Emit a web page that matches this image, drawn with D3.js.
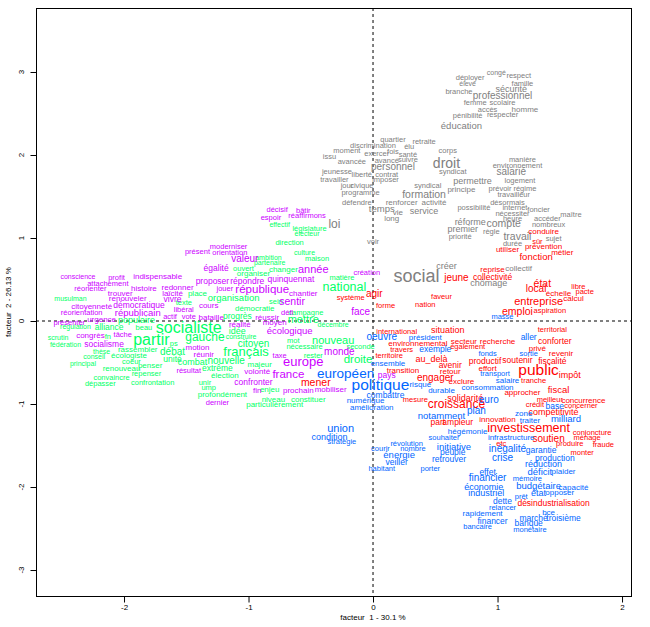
<!DOCTYPE html>
<html><head><meta charset="utf-8">
<script src="https://cdn.jsdelivr.net/npm/d3@7"></script>
<style>body{margin:0;background:#fff}svg{display:block}</style>
</head><body>
<script>
// [mot, facteur1, facteur2, poids]
const classeVerte = [
["musulman",-2.43,0.27,7],["populaire",-1.90,0.01,9],["régulation",-2.39,-0.07,7],["alliance",-2.12,-0.07,8.5],
["beau",-1.84,-0.08,7.5],["socialiste",-1.48,-0.08,16],["scrutin",-2.53,-0.20,7],["fn",-2.13,-0.18,7.5],
["partir",-1.78,-0.22,16],["fédération",-2.47,-0.28,7],["ps",-1.60,-0.27,7.5],["thèse",-2.18,-0.37,7],
["rassembler",-1.89,-0.34,8],["débat",-1.61,-0.37,10],["conseil",-2.24,-0.43,7],["écologiste",-1.96,-0.41,8],
["unité",-1.61,-0.46,8.5],["principal",-2.33,-0.51,7],["coeur",-1.94,-0.49,7.5],["penser",-1.79,-0.53,8],
["renouveau",-2.02,-0.57,8],["repenser",-1.82,-0.63,7.5],["convaincre",-2.10,-0.68,7.5],["dépasser",-2.19,-0.75,7.5],
["confrontation",-1.77,-0.74,7.5],["effectif",-0.75,1.16,7],["législature",-0.51,1.11,7.5],["électeur",-0.53,1.05,7],
["direction",-0.67,0.95,7.5],["culture",-0.55,0.83,7],["ambition",-0.84,0.77,7],["partenaire",-0.83,0.71,7],
["maison",-0.45,0.75,7.5],["ouvert",-1.04,0.63,7.5],["changer",-0.72,0.63,8],["organiser",-0.96,0.57,8],
["matière",-0.25,0.53,7.5],["national",-0.23,0.42,12.5],["place",-1.41,0.33,8],["texte",-1.52,0.23,7.5],
["organisation",-1.12,0.28,9.5],["sein",-0.78,0.24,7.5],["démocratie",-0.95,0.16,8],["campagne",-0.54,0.11,7.5],
["progrès",-1.09,0.06,8.5],["mettre",-0.56,0.02,11],["décembre",-0.32,-0.04,7],["gauche",-1.35,-0.19,12],
["idée",-1.09,-0.12,9],["construire",-1.06,-0.19,7],["mot",-0.64,-0.23,7.5],["nouveau",-0.32,-0.23,11],
["citoyen",-0.96,-0.27,10],["nécessaire",-0.55,-0.31,7.5],["français",-1.02,-0.37,13],["rester",-0.48,-0.41,7.5],
["seconde",-0.10,-0.31,7.5],["droite",-0.12,-0.46,11.5],["combat",-1.45,-0.49,9],["nouvelle",-1.18,-0.48,10],
["majeur",-0.91,-0.52,8],["extrême",-1.25,-0.57,8.5],["élection",-1.19,-0.65,8],["unir",-1.35,-0.74,7.5],
["ump",-1.32,-0.80,7.5],["enjeu",-0.83,-0.82,8],["profondément",-1.21,-0.88,8],["niveau",-0.80,-0.94,8],
["constituer",-0.52,-0.94,8],["particulièrement",-0.79,-1.00,8]
];
const classeMagenta = [
["conscience",-2.37,0.53,7],["profit",-2.06,0.52,7.5],["indispensable",-1.73,0.54,8],["attachement",-2.13,0.45,7.5],
["réorienter",-2.27,0.39,7.5],["histoire",-1.84,0.40,8],["redonner",-1.57,0.41,8],["trouver",-2.03,0.34,8],
["laïcité",-1.61,0.33,8],["renouveler",-1.97,0.27,8],["vivre",-1.61,0.27,8.5],["citoyenneté",-2.26,0.18,8],
["démocratique",-1.88,0.19,8.5],["libéral",-1.52,0.14,7.5],["réorientation",-2.34,0.10,7.5],["républicain",-1.89,0.10,9.5],
["actif",-1.63,0.05,7.5],["urgence",-2.18,0.02,8],["présenter",-2.44,-0.02,7.5],["vote",-1.48,0.05,7.5],
["bataille",-1.30,0.05,8],["congrès",-2.27,-0.17,8],["tâche",-2.01,-0.16,7.5],["socialisme",-2.16,-0.28,8.5],
["motion",-1.41,-0.31,8],["réunir",-1.36,-0.40,8],["résultat",-1.48,-0.60,7.5],["décisif",-0.77,1.35,7.5],
["bâtir",-0.56,1.33,7.5],["espoir",-0.82,1.25,7.5],["réaffirmons",-0.53,1.27,7.5],["moderniser",-1.16,0.90,7.5],
["présent",-1.41,0.84,7.5],["orientation",-1.15,0.83,7.5],["valeur",-1.03,0.75,10],["égalité",-1.26,0.64,8.5],
["année",-0.48,0.63,11],["proposer",-1.29,0.48,8.5],["répondre",-1.01,0.48,8.5],["quinquennat",-0.66,0.51,8.5],
["création",-0.05,0.58,7.5],["jouer",-1.19,0.39,7.5],["république",-0.89,0.39,11.5],["chantier",-0.56,0.33,8],
["sentir",-0.65,0.24,10.5],["cours",-1.32,0.19,8],["défi",-0.69,0.11,7.5],["face",-0.10,0.11,10],
["réussir",-0.85,0.05,8],["moyen",-0.79,-0.01,8],["réalité",-1.07,-0.04,8],["écologique",-0.67,-0.12,9.5],
["taxe",-0.75,-0.41,7.5],["monde",-0.27,-0.37,10],["europe",-0.56,-0.49,13],["volonté",-0.93,-0.61,8],
["france",-0.68,-0.64,11.5],["confronter",-0.96,-0.74,8.5],["fin",-0.93,-0.83,8],["prochain",-0.60,-0.83,8],
["mobiliser",-0.34,-0.82,8],["dernier",-1.25,-0.98,7.5],["pays",0.11,-0.65,8.5]
];
const classeGrise = [
["congé",0.99,2.99,7],["respect",1.17,2.96,7.5],["déployer",0.78,2.93,7.5],["élevé",0.76,2.86,7],
["famille",1.20,2.86,7.5],["sécurité",1.11,2.80,9],["branche",0.69,2.77,7.5],["professionnel",1.04,2.72,10],
["femme",0.82,2.63,7.5],["scolaire",1.04,2.63,7.5],["accès",0.92,2.55,7.5],["homme",1.22,2.55,8],
["pénibilité",0.76,2.48,7.5],["respecter",1.04,2.49,7.5],["éducation",0.71,2.35,9.5],["quartier",0.16,2.19,7.5],
["retraite",0.41,2.16,7.5],["discrimination",0.00,2.12,7.5],["élu",0.29,2.10,7.5],["corps",0.60,2.06,7.5],
["moment",-0.21,2.05,7.5],["exercer",0.03,2.02,7.5],["fois",0.16,2.04,7.5],["santé",0.28,2.01,7.5],
["issu",-0.35,1.98,7.5],["avancée",-0.17,1.92,7.5],["avancé",0.11,1.94,7.5],["suivre",0.28,1.95,7.5],
["personnel",0.16,1.86,10],["droit",0.59,1.90,14],["manière",1.20,1.95,7.5],["environnement",1.16,1.87,7.5],
["jeunesse",-0.29,1.80,7.5],["liberté",-0.09,1.77,7.5],["contrat",0.11,1.77,7.5],["syndicat",0.64,1.80,7.5],
["salarié",1.11,1.80,10],["travailler",-0.31,1.71,7.5],["imposer",0.10,1.71,7.5],["permettre",0.80,1.69,9],
["logement",1.18,1.69,7.5],["jour",-0.21,1.63,7.5],["civique",-0.09,1.63,7.5],["syndical",0.44,1.64,7.5],
["principe",0.71,1.59,8],["prévoir",1.02,1.60,7.5],["régime",1.22,1.60,7.5],["programme",-0.10,1.55,7.5],
["formation",0.41,1.53,10.5],["travailleur",1.13,1.53,7.5],["défendre",-0.13,1.43,7.5],["renforcer",0.23,1.43,8],
["activité",0.49,1.43,8],["désormais",1.08,1.43,7.5],["temps",0.07,1.35,9.5],["vie",0.20,1.31,8],
["service",0.41,1.33,9],["possibilité",0.81,1.37,7.5],["internet",1.14,1.37,7.5],["foncier",1.33,1.35,7.5],
["nécessiter",1.12,1.30,7.5],["maître",1.59,1.28,7.5],["long",0.15,1.24,8],["heure",1.12,1.24,7.5],
["accéder",1.40,1.24,7.5],["réforme",0.78,1.20,9],["compte",1.05,1.18,10.5],["nombreux",1.41,1.17,7.5],
["loi",-0.31,1.17,12],["premier",0.72,1.11,9],["règle",0.95,1.08,7.5],["priorité",0.70,1.02,7.5],
["travail",1.16,1.02,10.5],["sujet",1.45,0.99,7.5],["voir",0.00,0.96,7.5],["durée",1.12,0.94,7.5],
["créer",0.59,0.66,9],["collectif",1.17,0.64,8],["social",0.35,0.54,18],["chômage",0.93,0.46,9]
];
const classeRouge = [
["conduire",1.37,1.08,8],["sûr",1.32,0.96,7.5],["prévention",1.37,0.90,8],["utiliser",1.08,0.86,8],
["métier",1.52,0.83,8],["fonction",1.31,0.78,9.5],["reprise",0.96,0.63,8],["jeune",0.67,0.53,10],
["collectivité",0.96,0.53,8.5],["état",1.36,0.46,10.5],["libre",1.65,0.42,7.5],["local",1.31,0.39,10],
["échelle",1.49,0.34,8],["pacte",1.70,0.36,7.5],["calcul",1.61,0.28,8],["faveur",0.55,0.30,7.5],
["nation",0.42,0.20,7.5],["système",-0.18,0.29,7.5],["agir",0.01,0.33,10],["forme",0.10,0.19,7.5],
["entreprise",1.33,0.24,11],["emploi",1.16,0.12,10.5],["aspiration",1.42,0.13,7.5],["international",0.19,-0.13,7.5],
["situation",0.60,-0.11,9],["environnemental",0.36,-0.27,8],["secteur",0.73,-0.24,8],["recherche",1.00,-0.24,8],
["travers",0.23,-0.34,7.5],["également",0.76,-0.31,7.5],["territoire",0.13,-0.42,7.5],["au_delà",0.47,-0.45,9],
["avenir",0.62,-0.53,8.5],["productif",0.90,-0.48,8.5],["transition",0.24,-0.59,8],["retour",0.62,-0.60,8],
["effort",0.92,-0.57,8],["engager",0.50,-0.68,10],["exclure",0.71,-0.72,8],["mesure",0.34,-0.95,7.5],
["solidarité",0.74,-0.92,9],["croissance",0.67,-1.00,12],["part",0.52,-1.22,8.5],["ampleur",0.68,-1.22,8.5],
["innovation",1.00,-1.18,8],["investissement",1.25,-1.29,12.5],["territorial",1.44,-0.10,7.5],["conforter",1.46,-0.24,8.5],
["privé",1.32,-0.33,8],["revenir",1.51,-0.39,8],["soutenir",1.16,-0.47,8.5],["fiscalité",1.44,-0.48,8.5],
["public",1.33,-0.59,15.5],["impôt",1.58,-0.65,9],["tranche",1.29,-0.72,7.5],["approcher",1.20,-0.86,8],
["fiscal",1.49,-0.83,9.5],["meilleur",1.42,-0.94,7.5],["concurrence",1.69,-0.95,8],["crédit",1.30,-1.00,7.5],
["concerner",1.67,-1.02,7.5],["compétitivité",1.45,-1.10,9],["conjoncture",1.76,-1.34,7.5],["ménage",1.72,-1.40,7.5],
["soutien",1.41,-1.41,10],["produire",1.58,-1.48,7.5],["fraude",1.85,-1.49,7.5],["monter",1.68,-1.58,7.5],
["etc",1.03,-1.47,7.5],["désindustrialisation",1.45,-2.19,8.5],["mener",-0.46,-0.74,10.5]
];
const classeBleue = [
["masse",1.04,0.05,7.5],["oeuvre",0.07,-0.19,10],["président",0.42,-0.19,8],["exemple",0.50,-0.34,8.5],
["fonds",0.92,-0.39,7.5],["ensemble",0.12,-0.51,8],["européen",-0.22,-0.63,13.5],["transport",0.98,-0.63,7.5],
["salaire",1.08,-0.71,8],["politique",0.06,-0.76,15.5],["risque",0.38,-0.76,8],["durable",0.55,-0.83,8],
["consommation",0.92,-0.80,8],["combattre",0.10,-0.89,8.5],["euro",0.93,-0.94,10],["numérique",-0.06,-0.95,8],
["amélioration",-0.01,-1.04,8],["plan",0.83,-1.08,10],["notamment",0.55,-1.14,9.5],["union",-0.26,-1.29,11],
["condition",-0.35,-1.39,9],["stratégie",-0.25,-1.45,7.5],["hégémonie",0.76,-1.33,8],["infrastructure",1.11,-1.40,8],
["souhaiter",0.57,-1.40,7.5],["révolution",0.27,-1.47,7.5],["courir",0.06,-1.53,7.5],["nombre",0.32,-1.53,7.5],
["initiative",0.65,-1.51,9.5],["inégalité",1.08,-1.54,10],["garantie",1.35,-1.55,8.5],["énergie",0.21,-1.61,9.5],
["peuple",0.64,-1.58,8.5],["crise",1.04,-1.64,10],["production",1.46,-1.65,8.5],["veiller",0.19,-1.70,8.5],
["retrouver",0.61,-1.66,8.5],["habitant",0.07,-1.77,7.5],["porter",0.46,-1.78,7.5],["réduction",1.37,-1.72,9],
["déficit",1.34,-1.81,9.5],["plaider",1.53,-1.81,8],["mémoire",1.24,-1.89,7.5],["effet",0.92,-1.82,8.5],
["financier",0.92,-1.89,10],["économie",0.89,-2.00,9],["industriel",0.91,-2.07,9],["budgétaire",1.33,-1.98,9.5],
["capacité",1.61,-2.00,8],["prêt",1.19,-2.11,7.5],["état",1.33,-2.07,9],["opposer",1.50,-2.06,8],
["dette",1.04,-2.17,8.5],["relancer",1.04,-2.24,7.5],["rapidement",0.88,-2.31,8],["bce",1.41,-2.30,8],
["financer",0.96,-2.41,8.5],["marché",1.29,-2.37,8.5],["troisième",1.53,-2.37,8.5],["banque",1.25,-2.43,8.5],
["bancaire",0.84,-2.48,7.5],["monétaire",1.26,-2.51,7.5],["aller",1.25,-0.19,8.5],["sortie",1.25,-0.39,7.5],
["base",1.46,-1.02,8.5],["zone",1.21,-1.11,8],["traiter",1.26,-1.19,8],["milliard",1.55,-1.18,9.5]
];
const ticksX = [-2,-1,0,1,2];
const ticksY = [-3,-2,-1,0,1,2,3];
const titreX = "facteur  1 - 30.1 %";
const titreY = "facteur  2 - 26.13 %";

const classes = [
  {rows: classeGrise, color: "#808080"},
  {rows: classeVerte, color: "#00FF66"},
  {rows: classeMagenta, color: "#CC00FF"},
  {rows: classeRouge, color: "#FF0000"},
  {rows: classeBleue, color: "#0066FF"}
];

const W = 650, H = 627;
const FONT = "'Liberation Sans', Arial, Helvetica, sans-serif";
const svg = d3.select("body").append("svg").attr("width", W).attr("height", H)
  .style("font-family", FONT);

const x = d3.scaleLinear().domain([-2.707, 2.072]).range([36, 631]);
const y = d3.scaleLinear().domain([-3.313, 3.771]).range([596, 8]);
const fs = d3.scaleLinear().domain([7, 18]).range([7, 18]);
const [x0, x1] = x.range();
const [y0, y1] = y.range();

// reference lines (dashed)
svg.append("line").attr("x1", x(0)).attr("x2", x(0)).attr("y1", y1).attr("y2", y0)
  .attr("stroke", "#000").attr("stroke-width", 1).attr("stroke-dasharray", "3,3");
svg.append("line").attr("x1", x0).attr("x2", x1).attr("y1", y(0)).attr("y2", y(0))
  .attr("stroke", "#000").attr("stroke-width", 1).attr("stroke-dasharray", "3,3");

// words
classes.forEach(c => {
  svg.append("g").selectAll("text").data(c.rows).join("text")
    .attr("x", d => x(d[1]))
    .attr("y", d => y(d[2]))
    .attr("dy", "0.35em")
    .attr("text-anchor", "middle")
    .attr("font-size", d => fs(d[3]) + "px")
    .attr("fill", c.color)
    .text(d => d[0]);
});

// frame
svg.append("rect").attr("x", x0 + 0.5).attr("y", y1 + 0.5)
  .attr("width", x1 - x0).attr("height", y0 - y1)
  .attr("fill", "none").attr("stroke", "#000").attr("stroke-width", 1);

// axes
const ax = svg.append("g").attr("transform", `translate(0,${y0 + 0.5})`)
  .call(d3.axisBottom(x).tickValues(ticksX).tickSize(6).tickPadding(2).tickFormat(d => String(d)));
ax.select(".domain").remove();
ax.selectAll("text").attr("font-size", "8px").attr("font-family", FONT).attr("fill", "#000");

const ay = svg.append("g").attr("transform", `translate(${x0 + 0.5},0)`)
  .call(d3.axisLeft(y).tickValues(ticksY).tickSize(6).tickFormat(""));
ay.select(".domain").remove();
svg.append("g").selectAll("text").data(ticksY).join("text")
  .attr("transform", d => `translate(${x0 - 12},${y(d)}) rotate(-90)`)
  .attr("text-anchor", "middle")
  .attr("font-size", "8px").attr("fill", "#000")
  .text(d => String(d));

// titles
svg.append("text").attr("x", x(0)).attr("y", 620).attr("text-anchor", "middle")
  .attr("font-size", "8px").attr("fill", "#000").attr("xml:space", "preserve").style("white-space", "pre")
  .text(titreX);
svg.append("text").attr("transform", `translate(11,${(y0 + y1) / 2}) rotate(-90)`)
  .attr("text-anchor", "middle")
  .attr("font-size", "8px").attr("fill", "#000").style("white-space", "pre")
  .text(titreY);
</script>
</body></html>
